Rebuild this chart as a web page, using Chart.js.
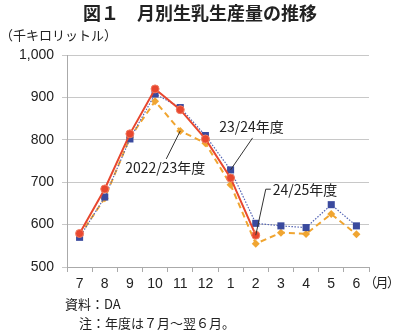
<!DOCTYPE html>
<html lang="ja">

<head>
  <meta charset="UTF-8" />
  <script src="https://cdn.jsdelivr.net/npm/chart.js"></script>
  <title>月別生乳生産量の推移</title>
  <style>
    body { margin: 0; background: #fff; }
    #wrap { position: relative; width: 400px; height: 331px; font-family: "Noto Sans CJK JP", sans-serif; color: #222; }
    #grafico { position: absolute; left: 0; top: 0; }
    .txt { position: absolute; white-space: nowrap; line-height: 1; }
    #titulo { left: 0; width: 400px; top: 3px; text-align: center; font-size: 18px; font-weight: bold; }
    #unidade { left: 0; top: 28px; font-size: 13px; }
    #mes { left: 364px; top: 275px; font-size: 13px; letter-spacing: -1.5px; }
    #fonte { left: 65px; top: 297px; font-size: 13px; }
    #nota { left: 79px; top: 316px; font-size: 13px; }
  </style>
</head>

<body>
  <div id="wrap">
    <canvas id="grafico" width="400" height="331"></canvas>
    <div class="txt" id="titulo">図１　月別生乳生産量の推移</div>
    <div class="txt" id="unidade">（千キロリットル）</div>
    <div class="txt" id="mes">（月）</div>
    <div class="txt" id="fonte">資料：DA</div>
    <div class="txt" id="nota">注：年度は７月～翌６月。</div>
  </div>
</body>

</html>

<script>
  // dados (千キロリットル)
  const meses = ['7', '8', '9', '10', '11', '12', '1', '2', '3', '4', '5', '6'];
  const serie2425 = [579, 684, 814, 920, 871, 802, 710, 575, null, null, null, null];
  const serie2324 = [570, 665, 802, 908, 876, 810, 729, 603, 597, 593, 647, 597];
  const serie2223 = [574, 662, 805, 891, 821, 792, 694, 555, 581, 578, 625, 577];
  const yTicks = [500, 600, 700, 800, 900, 1000];

  // rótulos com linha de chamada: [dataset, índice, texto, fim da linha dx/dy, texto dx/dy, alinhamento]
  const rotulos = [
    [2, 4, '2022/23年度', [[-14, 28]], [-15, 37], 'center'],
    [1, 6, '23/24年度', [[22, -32]], [21, -43], 'center'],
    [0, 7, '24/25年度', [[10, -46], [15, -46]], [17, -46], 'left']
  ];

  const pluginRotulos = {
    id: 'rotulos',
    afterDatasetsDraw(chart) {
      const ctx = chart.ctx;
      ctx.save();
      ctx.font = '14px "Noto Sans CJK JP"';
      ctx.textBaseline = 'middle';
      rotulos.forEach(r => {
        const p = chart.getDatasetMeta(r[0]).data[r[1]];
        ctx.strokeStyle = '#333';
        ctx.lineWidth = 1;
        ctx.beginPath();
        ctx.moveTo(p.x, p.y);
        r[3].forEach(d => ctx.lineTo(p.x + d[0], p.y + d[1]));
        ctx.stroke();
        ctx.fillStyle = '#222';
        ctx.textAlign = r[5];
        ctx.fillText(r[2], p.x + r[4][0], p.y + r[4][1]);
      });
      ctx.restore();
    }
  };

  const dados = {
    labels: meses,
    datasets: [
      {
        label: '24/25年度',
        data: serie2425,
        borderColor: '#E8472F',
        backgroundColor: '#E8472F',
        borderWidth: 2,
        pointStyle: 'circle',
        pointRadius: 4,
        pointBorderColor: '#F07A60',
        pointBorderWidth: 1
      },
      {
        label: '23/24年度',
        data: serie2324,
        borderColor: '#5565B5',
        backgroundColor: '#3A4A9E',
        borderWidth: 1.2,
        borderDash: [1.5, 1.5],
        pointStyle: 'rect',
        pointRadius: 5,
        pointBorderColor: '#3A4A9E',
        pointBorderWidth: 0
      },
      {
        label: '2022/23年度',
        data: serie2223,
        borderColor: '#F0A531',
        backgroundColor: '#F0A531',
        borderWidth: 2,
        borderDash: [6, 4],
        pointStyle: 'rectRot',
        pointRadius: 4,
        pointBorderColor: '#F0A531',
        pointBorderWidth: 0
      }
    ]
  };

  const config = {
    type: 'line',
    data: dados,
    plugins: [pluginRotulos],
    options: {
      responsive: false,
      animation: false,
      spanGaps: false,
      layout: { padding: { top: 55, right: 31, bottom: 0, left: 0 } },
      plugins: {
        legend: { display: false },
        tooltip: { enabled: false }
      },
      scales: {
        x: {
          offset: true,
          grid: { offset: true, drawOnChartArea: false, tickLength: 5, color: '#aaa' },
          border: { color: '#aaa' },
          ticks: { padding: 4, color: '#222', font: { family: 'Liberation Sans', size: 14 } },
          afterFit: s => { s.height = 64; }
        },
        y: {
          min: 500,
          max: 1000,
          afterBuildTicks: s => { s.ticks = yTicks.map(v => ({ value: v })); },
          grid: { color: '#c8c8c8', tickLength: 5 },
          border: { color: '#aaa' },
          ticks: { padding: 8, color: '#222', font: { family: 'Liberation Sans', size: 14 } },
          afterFit: s => { s.width = 67; }
        }
      }
    }
  };

  new Chart(document.getElementById('grafico').getContext('2d'), config);
</script>
